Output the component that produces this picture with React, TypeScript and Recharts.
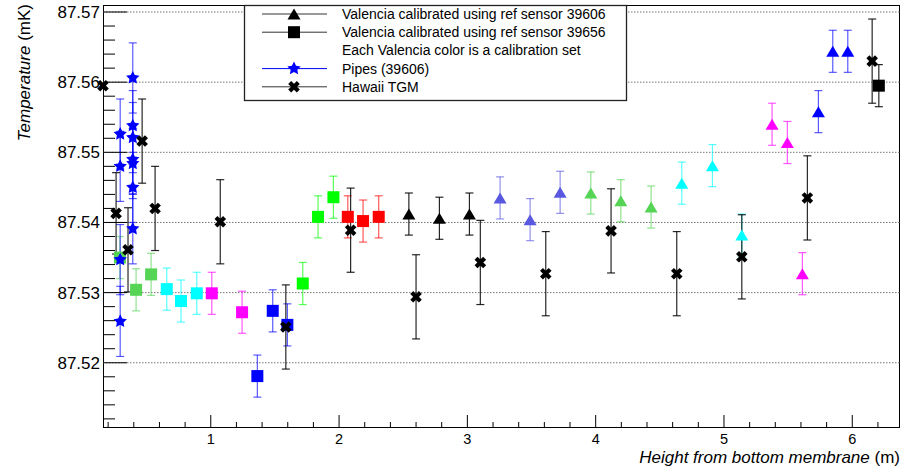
import React from "react";
import { ScatterChart, Scatter, XAxis, YAxis, ErrorBar, ReferenceLine } from "recharts";

type Pt = { x: number; y: number; err: number };

// Valencia calibrated using ref sensor 39656 (squares), one array per calibration set
const sqLightGreen: Pt[] = [
  { x: 0.292, y: 87.535, err: 0.003 },
  { x: 0.418, y: 87.5304, err: 0.003 },
  { x: 0.535, y: 87.5326, err: 0.003 },
];
const sqCyan: Pt[] = [
  { x: 0.657, y: 87.5305, err: 0.003 },
  { x: 0.768, y: 87.5288, err: 0.003 },
  { x: 0.891, y: 87.5299, err: 0.003 },
];
const sqMagenta: Pt[] = [
  { x: 1.008, y: 87.5299, err: 0.003 },
  { x: 1.244, y: 87.5272, err: 0.003 },
];
const sqBlue: Pt[] = [
  { x: 1.363, y: 87.5181, err: 0.003 },
  { x: 1.483, y: 87.5274, err: 0.003 },
  { x: 1.597, y: 87.5254, err: 0.003 },
];
const sqGreen: Pt[] = [
  { x: 1.717, y: 87.5313, err: 0.003 },
  { x: 1.836, y: 87.5408, err: 0.003 },
  { x: 1.956, y: 87.5436, err: 0.003 },
];
const sqRed: Pt[] = [
  { x: 2.068, y: 87.5408, err: 0.003 },
  { x: 2.187, y: 87.5402, err: 0.003 },
  { x: 2.309, y: 87.5408, err: 0.003 },
];
const sqBlack: Pt[] = [{ x: 6.207, y: 87.5595, err: 0.003 }];

// Valencia calibrated using ref sensor 39606 (triangles)
const trBlack: Pt[] = [
  { x: 2.544, y: 87.5412, err: 0.003 },
  { x: 2.782, y: 87.5406, err: 0.003 },
  { x: 3.016, y: 87.5412, err: 0.003 },
];
const trSlate: Pt[] = [
  { x: 3.255, y: 87.5435, err: 0.003 },
  { x: 3.489, y: 87.5404, err: 0.003 },
  { x: 3.723, y: 87.5443, err: 0.003 },
];
const trLightGreen: Pt[] = [
  { x: 3.962, y: 87.5442, err: 0.003 },
  { x: 4.196, y: 87.5431, err: 0.003 },
  { x: 4.432, y: 87.5422, err: 0.003 },
];
const trCyan: Pt[] = [
  { x: 4.671, y: 87.5456, err: 0.003 },
  { x: 4.91, y: 87.5481, err: 0.003 },
  { x: 5.139, y: 87.5382, err: 0.003 },
];
const trMagenta: Pt[] = [
  { x: 5.375, y: 87.554, err: 0.003 },
  { x: 5.494, y: 87.5514, err: 0.003 },
  { x: 5.611, y: 87.5327, err: 0.003 },
];
const trBlue: Pt[] = [
  { x: 5.736, y: 87.5558, err: 0.003 },
  { x: 5.848, y: 87.5644, err: 0.003 },
  { x: 5.965, y: 87.5644, err: 0.003 },
];

// Pipes (39606)
const pipes: Pt[] = [
  { x: 0.294, y: 87.5526, err: 0.005 },
  { x: 0.294, y: 87.548, err: 0.005 },
  { x: 0.294, y: 87.5347, err: 0.005 },
  { x: 0.294, y: 87.5259, err: 0.005 },
  { x: 0.392, y: 87.5606, err: 0.005 },
  { x: 0.392, y: 87.5538, err: 0.005 },
  { x: 0.392, y: 87.5521, err: 0.005 },
  { x: 0.392, y: 87.549, err: 0.005 },
  { x: 0.392, y: 87.5484, err: 0.005 },
  { x: 0.392, y: 87.545, err: 0.005 },
  { x: 0.392, y: 87.5391, err: 0.005 },
];

// Hawaii TGM
const hawaii: Pt[] = [
  { x: 0.16, y: 87.5595, err: 0 },
  { x: 0.262, y: 87.5413, err: 0.0058 },
  { x: 0.355, y: 87.5361, err: 0.006 },
  { x: 0.465, y: 87.5516, err: 0.006 },
  { x: 0.566, y: 87.542, err: 0.006 },
  { x: 1.074, y: 87.5401, err: 0.006 },
  { x: 1.585, y: 87.5251, err: 0.006 },
  { x: 2.09, y: 87.5389, err: 0.006 },
  { x: 2.6, y: 87.5294, err: 0.006 },
  { x: 3.101, y: 87.5343, err: 0.006 },
  { x: 3.611, y: 87.5327, err: 0.006 },
  { x: 4.12, y: 87.5388, err: 0.006 },
  { x: 4.632, y: 87.5327, err: 0.006 },
  { x: 5.139, y: 87.5351, err: 0.006 },
  { x: 5.65, y: 87.5435, err: 0.006 },
  { x: 6.155, y: 87.563, err: 0.006 },
];

const yMajor = [87.52, 87.53, 87.54, 87.55, 87.56, 87.57];
const xMajor = [1, 2, 3, 4, 5, 6];

const yTicks: number[] = [];
for (let i = 1; i <= 30; i++) yTicks.push(Number((87.51 + i * 0.002).toFixed(3)));
const xTicks: number[] = [];
for (let i = 1; i <= 31; i++) xTicks.push(Number((i * 0.2).toFixed(1)));

const W = 905;
const H = 466;
const PL = 103;
const PR = 900;
const PT = 5;
const PB = 428;
const FONT = "'Liberation Sans', Arial, Helvetica, sans-serif";

const LGREEN = "#55d455";
const SLATE = "#5858e0";

const squareShape = (color: string) => (p: any) =>
  <rect x={p.cx - 6} y={p.cy - 6} width={12} height={12} fill={color} />;

const triangleShape = (color: string) => (p: any) =>
  <polygon
    points={`${p.cx - 6.5},${p.cy + 5.5} ${p.cx + 6.5},${p.cy + 5.5} ${p.cx},${p.cy - 5.5}`}
    fill={color}
  />;

function starPoints(cx: number, cy: number, R: number, r: number) {
  const pts: string[] = [];
  for (let i = 0; i < 10; i++) {
    const a = -Math.PI / 2 + (i * Math.PI) / 5;
    const rad = i % 2 === 0 ? R : r;
    pts.push(`${cx + rad * Math.cos(a)},${cy + rad * Math.sin(a)}`);
  }
  return pts.join(" ");
}

const starShape = (color: string) => (p: any) =>
  <polygon points={starPoints(p.cx, p.cy, 7, 3.5)} fill={color} />;

const crossShape = (color: string) => (p: any) =>
  <g stroke={color} strokeWidth={4.2}>
    <line x1={p.cx - 4.3} y1={p.cy - 4.3} x2={p.cx + 4.3} y2={p.cy + 4.3} />
    <line x1={p.cx - 4.3} y1={p.cy + 4.3} x2={p.cx + 4.3} y2={p.cy - 4.3} />
  </g>;

const series = [
  { key: "sqLightGreen", data: sqLightGreen, color: LGREEN, shape: squareShape },
  { key: "sqCyan", data: sqCyan, color: "#00ffff", shape: squareShape },
  { key: "sqMagenta", data: sqMagenta, color: "#ff00ff", shape: squareShape },
  { key: "sqBlue", data: sqBlue, color: "#0000ff", shape: squareShape },
  { key: "sqGreen", data: sqGreen, color: "#00ff00", shape: squareShape },
  { key: "sqRed", data: sqRed, color: "#ff0000", shape: squareShape },
  { key: "sqBlack", data: sqBlack, color: "#000000", shape: squareShape },
  { key: "trBlack", data: trBlack, color: "#000000", shape: triangleShape },
  { key: "trSlate", data: trSlate, color: SLATE, shape: triangleShape },
  { key: "trLightGreen", data: trLightGreen, color: LGREEN, shape: triangleShape },
  { key: "trCyan", data: trCyan, color: "#00ffff", shape: triangleShape },
  { key: "trMagenta", data: trMagenta, color: "#ff00ff", shape: triangleShape },
  { key: "trBlue", data: trBlue, color: "#0000ff", shape: triangleShape },
  { key: "pipes", data: pipes, color: "#0000ff", shape: starShape },
  { key: "hawaii", data: hawaii, color: "#000000", shape: crossShape },
];

const YTick = (props: any) => {
  const v = props.payload.value;
  const major = yMajor.some((m) => Math.abs(m - v) < 1e-6);
  return (
    <g>
      <line x1={PL} x2={PL + (major ? 24 : 12)} y1={props.y} y2={props.y} stroke="#000" />
      {major && (
        <text x={PL - 3} y={props.y + 6} textAnchor="end" fontSize={17} fontFamily={FONT} fill="#000">
          {v.toFixed(2)}
        </text>
      )}
    </g>
  );
};

const XTick = (props: any) => {
  const v = props.payload.value;
  const major = xMajor.some((m) => Math.abs(m - v) < 1e-6);
  return (
    <g>
      <line x1={props.x} x2={props.x} y1={PB} y2={PB - (major ? 13 : 6)} stroke="#000" />
      {major && (
        <text x={props.x} y={443.5} textAnchor="middle" fontSize={14.5} fontFamily={FONT} fill="#000">
          {v}
        </text>
      )}
    </g>
  );
};

const legendRows = [
  { label: "Valencia calibrated using ref sensor 39606", marker: "triangle", line: "#333" },
  { label: "Valencia calibrated using ref sensor 39656", marker: "square", line: "#333" },
  { label: "Each Valencia color is a calibration set", marker: "", line: "" },
  { label: "Pipes (39606)", marker: "star", line: "#0000ff" },
  { label: "Hawaii TGM", marker: "cross", line: "#333" },
];

function LegendMarker({ kind, cx, cy }: { kind: string; cx: number; cy: number }) {
  const p = { cx, cy };
  if (kind === "triangle") return triangleShape("#000")(p);
  if (kind === "square") return squareShape("#000")(p);
  if (kind === "star") return starShape("#0000ff")(p);
  if (kind === "cross") return crossShape("#000")(p);
  return null;
}

export default function App() {
  const lx = 244;
  const ly = 5;
  return (
    <div style={{ position: "absolute", left: 0, top: 0, width: W, height: H, background: "#fff" }}>
      <svg width={W} height={H} style={{ position: "absolute", left: 0, top: 0 }}>
        <rect x={PL + 0.5} y={PT + 0.5} width={PR - PL - 1} height={PB - PT - 1} fill="none" stroke="#000" />
      </svg>
      <div style={{ position: "absolute", left: 0, top: 0 }}>
        <ScatterChart width={W} height={H} margin={{ top: PT, right: W - PR, left: 0, bottom: 0 }}>
          <XAxis
            type="number"
            dataKey="x"
            domain={[0.16, 6.372]}
            ticks={xTicks}
            interval={0}
            tick={<XTick />}
            tickLine={false}
            axisLine={false}
            height={H - PB}
          />
          <YAxis
            type="number"
            dataKey="y"
            domain={[87.5107, 87.571]}
            ticks={yTicks}
            interval={0}
            tick={<YTick />}
            tickLine={false}
            axisLine={false}
            width={PL}
          />
          {yMajor.map((v) => (
            <ReferenceLine key={v} y={v} stroke="#777" strokeDasharray="1.5 1.5" />
          ))}
          {series.map((s) => (
            <Scatter
              key={s.key}
              data={s.data}
              shape={s.shape(s.color)}
              isAnimationActive={false}
            >
              <ErrorBar
                dataKey="err"
                direction="y"
                width={4}
                stroke={s.color}
                strokeOpacity={s.color === "#000000" ? 0.85 : 0.65}
                strokeWidth={1.2}
                isAnimationActive={false}
              />
            </Scatter>
          ))}
        </ScatterChart>
      </div>
      <svg width={W} height={H} style={{ position: "absolute", left: 0, top: 0, pointerEvents: "none" }}>
        <rect x={lx + 0.5} y={ly + 0.5} width={382} height={95} fill="#fff" stroke="#222" strokeWidth={1.3} />
        {legendRows.map((r, i) => {
          const cy = 14 + i * 18.2;
          return (
            <g key={r.label}>
              {r.line && <line x1={262} x2={327} y1={cy} y2={cy} stroke={r.line} strokeWidth={1} />}
              {r.marker && <LegendMarker kind={r.marker} cx={294} cy={cy} />}
              <text x={342} y={cy + 5} fontSize={14} fontFamily={FONT} fill="#000">
                {r.label}
              </text>
            </g>
          );
        })}
        <text
          transform="translate(29.5, 4) rotate(-90)"
          textAnchor="end"
          fontSize={17}
          fontFamily={FONT}
          fill="#000"
        >
          <tspan fontStyle="italic">Temperature</tspan> (mK)
        </text>
        <text x={PR} y={462.5} textAnchor="end" fontSize={17} fontFamily={FONT} fill="#000">
          <tspan fontStyle="italic">Height from bottom membrane</tspan> (m)
        </text>
      </svg>
    </div>
  );
}
